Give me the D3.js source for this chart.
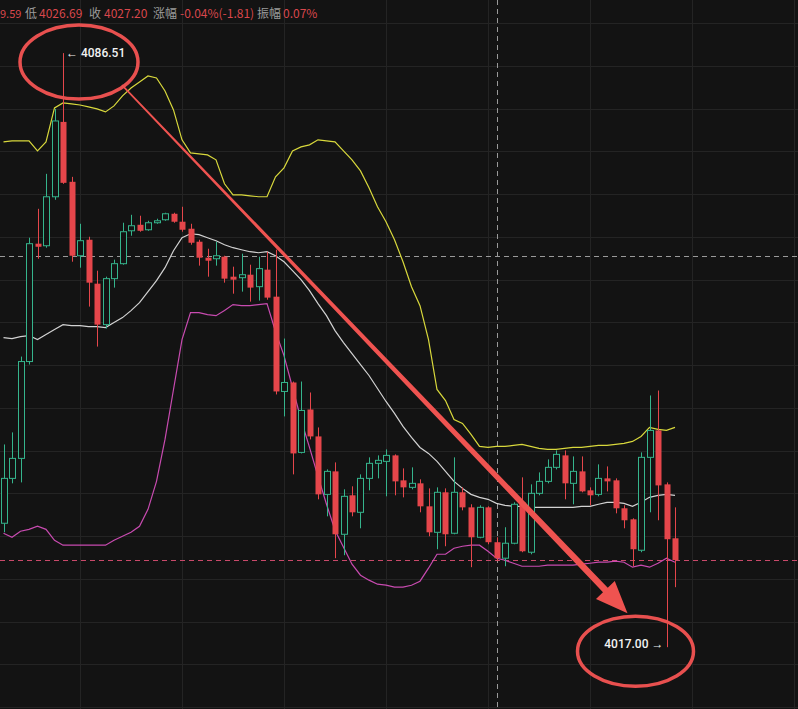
<!DOCTYPE html>
<html>
<head>
<meta charset="utf-8">
<script src="https://cdn.jsdelivr.net/npm/d3@7/dist/d3.min.js"></script>
<style>
    body { margin: 0; background: #131313; overflow: hidden; }
</style>
</head>
<body>
<div id="chart"></div>
<script>
const chart = {
    width: 798,
    height: 709
};

// candle values, oldest -> newest
const opens = [4031.50, 4036.75, 4039.09, 4050.42, 4064.21, 4063.97, 4069.70, 4078.46, 4071.45, 4062.80,
    4064.67, 4059.53, 4054.74, 4060.12, 4061.87, 4065.72, 4066.42, 4065.84, 4066.66, 4067.01,
    4067.71, 4066.78, 4065.96, 4064.44, 4062.57, 4062.45, 4062.69, 4060.35, 4060.23, 4060.58,
    4059.18, 4061.17, 4058.01, 4046.92, 4047.97, 4039.79, 4044.81, 4041.66, 4034.88, 4037.57,
    4030.21, 4034.77, 4032.78, 4036.75, 4038.51, 4038.74, 4039.44, 4036.52, 4035.70, 4036.17,
    4033.48, 4030.44, 4035.12, 4030.33, 4035.12, 4033.36, 4029.86, 4033.36, 4029.28, 4027.41,
    4029.16, 4033.95, 4028.11, 4035.00, 4036.40, 4038.04, 4039.44, 4036.17, 4037.57, 4035.35,
    4034.88, 4036.75, 4036.52, 4033.25, 4031.96, 4028.34, 4039.21, 4042.36, 4036.05, 4029.74];
const closes = [4036.75, 4039.09, 4050.42, 4064.21, 4063.85, 4069.70, 4078.57, 4071.33, 4062.80, 4064.56,
    4059.65, 4054.74, 4060.12, 4061.87, 4065.61, 4066.31, 4065.72, 4066.66, 4066.89, 4067.71,
    4066.78, 4065.84, 4064.32, 4062.57, 4062.22, 4062.80, 4060.12, 4060.00, 4060.58, 4059.07,
    4061.29, 4057.90, 4046.92, 4047.97, 4039.67, 4044.70, 4041.66, 4034.88, 4037.57, 4030.21,
    4034.65, 4032.78, 4036.75, 4038.51, 4038.86, 4039.44, 4036.40, 4035.70, 4036.17, 4033.48,
    4030.44, 4035.12, 4030.21, 4035.12, 4033.36, 4029.86, 4033.36, 4029.28, 4027.41, 4029.16,
    4033.72, 4028.22, 4035.00, 4036.40, 4038.04, 4039.56, 4036.17, 4037.57, 4035.23, 4034.77,
    4036.75, 4036.40, 4033.25, 4031.85, 4028.46, 4039.21, 4042.36, 4035.93, 4029.63, 4027.20];
const highs = [4040.72, 4042.13, 4051.00, 4064.91, 4068.29, 4072.38, 4079.98, 4086.51, 4072.03, 4066.54,
    4065.02, 4061.05, 4060.35, 4062.34, 4066.66, 4067.59, 4067.48, 4066.89, 4067.13, 4067.83,
    4067.83, 4068.53, 4066.54, 4064.67, 4063.62, 4064.44, 4062.80, 4061.52, 4063.04, 4061.75,
    4062.69, 4063.27, 4063.50, 4053.11, 4048.08, 4048.08, 4046.80, 4042.71, 4037.80, 4038.62,
    4035.47, 4035.82, 4037.22, 4039.21, 4039.44, 4040.14, 4039.56, 4037.92, 4038.04, 4036.64,
    4035.58, 4035.70, 4035.58, 4039.21, 4035.70, 4033.72, 4033.60, 4033.48, 4029.86, 4031.03,
    4033.95, 4036.87, 4036.05, 4037.45, 4038.97, 4040.02, 4040.02, 4039.32, 4039.32, 4035.70,
    4038.39, 4038.15, 4036.75, 4033.60, 4032.08, 4039.79, 4046.45, 4047.03, 4036.28, 4033.36];
const lows = [4030.44, 4036.17, 4036.28, 4050.07, 4062.45, 4063.74, 4069.35, 4071.21, 4062.10, 4061.40,
    4056.85, 4052.17, 4054.28, 4059.07, 4061.75, 4065.14, 4065.61, 4065.72, 4066.54, 4066.89,
    4066.66, 4065.61, 4064.09, 4061.64, 4060.35, 4061.64, 4059.65, 4058.36, 4058.60, 4057.43,
    4057.55, 4057.66, 4046.57, 4044.00, 4037.22, 4039.67, 4041.31, 4034.30, 4032.31, 4027.41,
    4027.76, 4032.31, 4030.91, 4035.35, 4036.75, 4034.65, 4034.77, 4034.53, 4035.47, 4032.78,
    4029.98, 4028.46, 4028.81, 4030.21, 4033.01, 4026.36, 4029.74, 4029.04, 4027.06, 4026.47,
    4029.04, 4028.11, 4027.87, 4034.77, 4036.17, 4037.80, 4034.30, 4033.72, 4035.12, 4033.60,
    4034.65, 4035.23, 4032.66, 4030.91, 4026.47, 4028.11, 4032.78, 4031.85, 4017.00, 4024.02];

// bollinger bands
const upperBand = [4076.12, 4076.24, 4076.24, 4076.24, 4075.07, 4076.12, 4080.09, 4080.68, 4080.56, 4080.44,
    4080.21, 4079.98, 4079.63, 4080.33, 4081.50, 4082.43, 4083.13, 4083.83, 4083.60, 4082.08,
    4079.86, 4076.36, 4074.84, 4074.72, 4074.60, 4074.02, 4071.22, 4069.93, 4069.93, 4069.81,
    4069.70, 4069.70, 4072.03, 4073.08, 4075.07, 4075.54, 4075.77, 4076.36, 4076.24, 4076.12,
    4075.07, 4074.02, 4072.73, 4070.75, 4068.53, 4066.78, 4064.67, 4062.10, 4059.18, 4056.96,
    4052.99, 4047.15, 4045.86, 4043.64, 4043.18, 4041.89, 4040.49, 4040.37, 4040.49, 4040.49,
    4040.61, 4040.72, 4040.49, 4040.26, 4040.14, 4040.14, 4040.26, 4040.37, 4040.37, 4040.49,
    4040.61, 4040.61, 4040.72, 4040.84, 4041.07, 4041.66, 4042.71, 4042.48, 4042.36, 4042.71];
const midBand = [4053.22, 4053.11, 4053.34, 4053.46, 4052.99, 4053.58, 4054.16, 4054.74, 4054.63, 4054.63,
    4054.51, 4054.51, 4054.39, 4054.98, 4055.56, 4056.38, 4057.31, 4058.60, 4059.88, 4061.40,
    4063.39, 4064.91, 4065.37, 4065.26, 4064.91, 4064.56, 4064.09, 4063.74, 4063.50, 4063.27,
    4063.15, 4063.27, 4062.80, 4062.10, 4061.05, 4060.00, 4058.72, 4057.20, 4055.79, 4054.04,
    4052.64, 4051.36, 4050.07, 4048.79, 4047.27, 4045.75, 4044.35, 4042.83, 4041.54, 4040.37,
    4039.67, 4038.74, 4037.57, 4036.40, 4035.58, 4034.88, 4034.53, 4034.30, 4033.83, 4033.60,
    4033.48, 4033.48, 4033.36, 4033.36, 4033.36, 4033.36, 4033.36, 4033.36, 4033.48, 4033.48,
    4033.72, 4033.95, 4033.95, 4033.83, 4033.48, 4033.95, 4034.53, 4034.77, 4034.88, 4034.77];
const lowerBand = [4030.33, 4029.86, 4030.56, 4030.79, 4031.15, 4030.79, 4029.51, 4028.93, 4028.93, 4028.93,
    4028.93, 4028.93, 4028.93, 4029.51, 4029.98, 4030.44, 4031.15, 4033.13, 4036.40, 4041.31,
    4047.15, 4052.99, 4056.15, 4056.15, 4055.91, 4055.79, 4056.38, 4057.08, 4056.96, 4056.96,
    4057.08, 4057.20, 4053.93, 4051.12, 4047.38, 4043.64, 4040.37, 4036.99, 4033.72, 4030.68,
    4028.69, 4026.71, 4025.42, 4024.84, 4024.37, 4024.25, 4024.02, 4024.02, 4024.25, 4024.72,
    4026.24, 4027.87, 4027.87, 4028.58, 4028.81, 4028.93, 4028.93, 4028.22, 4027.41, 4027.17,
    4026.82, 4026.47, 4026.47, 4026.47, 4026.59, 4026.59, 4026.59, 4026.59, 4026.71, 4026.82,
    4026.94, 4026.94, 4027.06, 4026.94, 4026.36, 4026.59, 4026.36, 4026.82, 4027.41, 4026.94];

// header strip
const headLabels = ["9.59", "低", "4026.69", "收", "4027.20", "涨幅", "-0.04%(-1.81)", "振幅", "0.07%"];
const headIsValue = [true, false, true, false, true, false, true, false, true];

const highLabel = "4086.51";
const lowLabel = "4017.00";
const crossIndex = 58;
const crossPrice = 4062.80;
const gridPrices = d3.range(4090, 4004, -5);
const gridIndex = d3.range(9, 100, 12);

const svg = d3.select("#chart").append("svg")
    .attr("width", chart.width).attr("height", chart.height)
    .style("background", "#131313")
    .style("display", "block");

const x = d3.scaleLinear().domain([0, 79]).range([3.5, 675]);
const y = d3.scaleLinear().domain([4085, 4010]).range([66, 707]);

const candles = opens.map((o, i) => ({ i: i, o: o, c: closes[i], h: highs[i], l: lows[i] }));

// grid
svg.append("g").selectAll("line").data(gridPrices).enter().append("line")
    .attr("x1", 0).attr("x2", chart.width)
    .attr("y1", d => Math.round(y(d)) + 0.5).attr("y2", d => Math.round(y(d)) + 0.5)
    .attr("stroke", "#242424").attr("stroke-width", 1);
svg.append("g").selectAll("line").data(gridIndex).enter().append("line")
    .attr("y1", 0).attr("y2", chart.height)
    .attr("x1", d => Math.round(x(d)) + 0.5).attr("x2", d => Math.round(x(d)) + 0.5)
    .attr("stroke", "#242424").attr("stroke-width", 1);

// crosshair + last price line
svg.append("line")
    .attr("x1", 0).attr("x2", chart.width)
    .attr("y1", Math.round(y(crossPrice)) + 0.5).attr("y2", Math.round(y(crossPrice)) + 0.5)
    .attr("stroke", "#9a9a9a").attr("stroke-dasharray", "5,4")
svg.append("line")
    .attr("x1", Math.round(x(crossIndex)) + 0.5).attr("x2", Math.round(x(crossIndex)) + 0.5)
    .attr("y1", 0).attr("y2", chart.height)
    .attr("stroke", "#9a9a9a").attr("stroke-dasharray", "5,4")
svg.append("line")
    .attr("x1", 0).attr("x2", chart.width)
    .attr("y1", Math.round(y(closes[closes.length - 1])) + 0.5).attr("y2", Math.round(y(closes[closes.length - 1])) + 0.5)
    .attr("stroke", "#c9496a").attr("stroke-dasharray", "5,4")

// bands
const bandLine = d3.line().x((d, i) => x(i)).y(d => y(d));
svg.append("path").datum(upperBand).attr("d", bandLine)
    .attr("fill", "none").attr("stroke", "#d8d83c").attr("stroke-width", 1.2)
svg.append("path").datum(midBand).attr("d", bandLine)
    .attr("fill", "none").attr("stroke", "#d2d2d2").attr("stroke-width", 1.2)
svg.append("path").datum(lowerBand).attr("d", bandLine)
    .attr("fill", "none").attr("stroke", "#c84bb0").attr("stroke-width", 1.2)

// candles
const red = "#e5464b";
const green = "#35b48c";
const bodyW = 6;
const cg = svg.append("g").selectAll("g").data(candles).enter().append("g");
cg.append("line")
    .attr("x1", d => Math.round(x(d.i)) + 0.5).attr("x2", d => Math.round(x(d.i)) + 0.5)
    .attr("y1", d => y(d.h))
    .attr("y2", d => d.c >= d.o ? y(Math.max(d.o, d.c)) : y(d.l))
    .attr("stroke", d => d.c >= d.o ? green : red)
cg.filter(d => d.c >= d.o).append("line")
    .attr("x1", d => Math.round(x(d.i)) + 0.5).attr("x2", d => Math.round(x(d.i)) + 0.5)
    .attr("y1", d => y(d.o)).attr("y2", d => y(d.l))
    .attr("stroke", green)
cg.append("rect")
    .attr("x", d => Math.round(x(d.i)) - bodyW / 2 + 0.5)
    .attr("y", d => y(Math.max(d.o, d.c)))
    .attr("width", bodyW)
    .attr("height", d => Math.max(1.5, y(Math.min(d.o, d.c)) - y(Math.max(d.o, d.c))))
    .attr("fill", d => d.c >= d.o ? "#131313" : red)
    .attr("stroke", d => d.c >= d.o ? green : "none")
    .attr("stroke-width", 1)

// header
const headX = [0, 25, 39, 89, 104, 153, 180, 257, 283];
svg.append("g").selectAll("text").data(headLabels).enter().append("text")
    .attr("x", (d, i) => headX[i]).attr("y", 18)
    .style("font-family", "'Noto Sans CJK SC', 'Noto Sans', sans-serif")
    .style("font-size", (d, i) => i == 0 ? "11px" : "12px")
    .attr("fill", (d, i) => headIsValue[i] ? "#d9474c" : "#9b9b9b")
    .text(d => d)

// annotations: high / low labels with circles and the arrow
const hx = x(7), hy = y(highs[7]);
const lx = x(78), ly = y(lows[78]);

svg.append("text").attr("x", hx + 3).attr("y", hy + 4)
    .style("font-family", "Roboto, sans-serif").style("font-size", "12px").style("font-weight", "500")
    .attr("fill", "#f2f2f2").text("\u2190 " + highLabel)
svg.append("text").attr("x", lx - 3).attr("y", ly + 1)
    .attr("text-anchor", "end")
    .style("font-family", "Roboto, sans-serif").style("font-size", "12px").style("font-weight", "500")
    .attr("fill", "#f2f2f2").text(lowLabel + " \u2192")

svg.append("ellipse").attr("cx", hx + 16).attr("cy", hy + 9).attr("rx", 59).attr("ry", 37)
    .attr("fill", "none").attr("stroke", "#e8504f").attr("stroke-width", 3.5)
svg.append("ellipse").attr("cx", lx - 31).attr("cy", ly + 4).attr("rx", 58).attr("ry", 35)
    .attr("fill", "none").attr("stroke", "#e8504f").attr("stroke-width", 3.5)

const sx = hx + 59, sy = hy + 32;
const tx = lx - 39, ty = ly - 34;
const len = Math.hypot(tx - sx, ty - sy);
const ux = (tx - sx) / len, uy = (ty - sy) / len;
const nx = -uy, ny = ux;
const headLen = 32, headHalf = 13, w0 = 0.8, w1 = 3.3;
const bx = tx - ux * headLen, by = ty - uy * headLen;
const arrowPts = [
    [sx + nx * w0, sy + ny * w0],
    [bx + nx * w1, by + ny * w1],
    [bx + nx * headHalf, by + ny * headHalf],
    [tx, ty],
    [bx - nx * headHalf, by - ny * headHalf],
    [bx - nx * w1, by - ny * w1],
    [sx - nx * w0, sy - ny * w0]
];
svg.append("path")
    .attr("d", "M" + arrowPts.map(p => p.join(",")).join("L") + "Z")
    .attr("fill", "#ef5350")
</script>
</body>
</html>
